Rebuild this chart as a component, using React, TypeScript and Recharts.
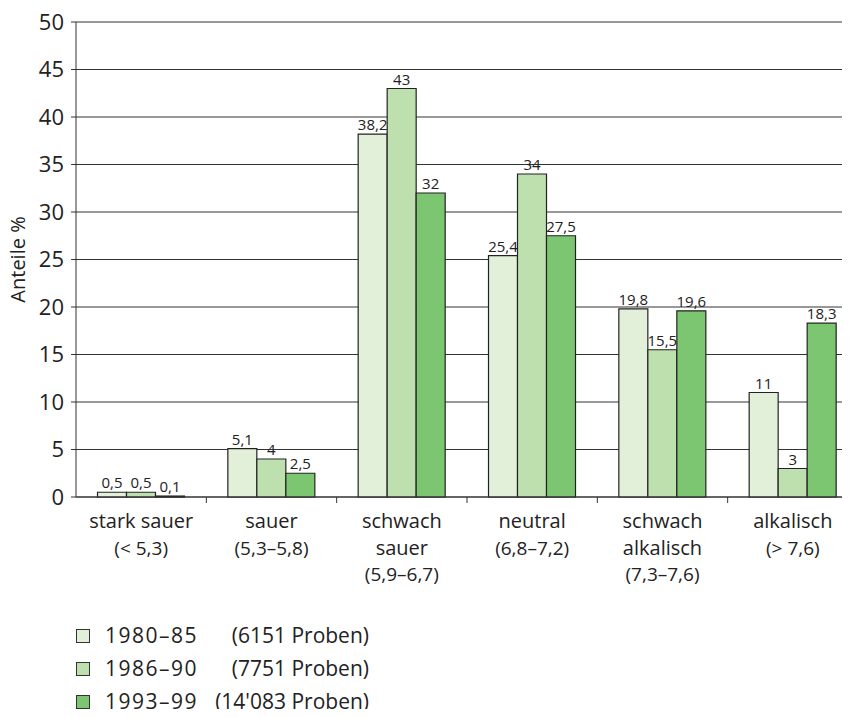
import React from "react";
import {
  BarChart,
  Bar,
  XAxis,
  YAxis,
  CartesianGrid,
  LabelList,
} from "recharts";

// Kategorien (pH-Bereiche)
const categoryNames: string[][] = [
  ["stark sauer"],
  ["sauer"],
  ["schwach", "sauer"],
  ["neutral"],
  ["schwach", "alkalisch"],
  ["alkalisch"],
];
const categoryRanges = [
  "(< 5,3)",
  "(5,3–5,8)",
  "(5,9–6,7)",
  "(6,8–7,2)",
  "(7,3–7,6)",
  "(> 7,6)",
];

// Anteile in %
const s1980 = [0.5, 5.1, 38.2, 25.4, 19.8, 11];
const s1986 = [0.5, 4, 43, 34, 15.5, 3];
const s1993 = [0.1, 2.5, 32, 27.5, 19.6, 18.3];

const seriesKeys = ["p1980", "p1986", "p1993"];
const seriesPeriods = ["1980–85", "1986–90", "1993–99"];
const seriesSamples = ["(6151 Proben)", "(7751 Proben)", "(14'083 Proben)"];
const seriesColors = ["#e2efd9", "#bedfae", "#7cc672"];

const yTicks = [0, 5, 10, 15, 20, 25, 30, 35, 40, 45, 50];

const data = categoryNames.map((n, i) => ({
  key: String(i),
  p1980: s1980[i],
  p1986: s1986[i],
  p1993: s1993[i],
}));

const FONT = "'Open Sans', 'Noto Sans', sans-serif";
const INK = "#222";

const CHART_W = 858;
const Y_AXIS_W = 76;
// halbe Kategorienbreite (Plotbreite / Anzahl Kategorien / 2)
const HALF_BAND = (CHART_W - Y_AXIS_W) / categoryNames.length / 2;

function fmt(v: any) {
  return String(v).replace(".", ",");
}

// Beschriftung + Teilstrich an der linken Kategoriengrenze
function CategoryTick(props: any) {
  const { x, y, payload } = props;
  const i = Number(payload?.value);
  const off = Number(payload?.offset);
  const half = Number.isFinite(off) && off > 1 ? off : HALF_BAND;
  const lines = [...(categoryNames[i] || []), categoryRanges[i]];
  return (
    <g>
      {i > 0 && (
        <path d={`M${x - half},${y}v6`} stroke="#333" strokeWidth={1} fill="none" />
      )}
      {lines.map((t, k) => (
        <text
          key={k}
          x={x}
          y={y}
          dy={k * 26.5 + 31}
          textAnchor="middle"
          fontSize={k === lines.length - 1 ? 19 : 20}
          fill={INK}
          fontFamily={FONT}
        >
          {t}
        </text>
      ))}
    </g>
  );
}

export default function App() {
  return (
    <div
      style={{
        position: "relative",
        width: 850,
        height: 717,
        margin: -8,
        overflow: "hidden",
        background: "#fff",
        fontFamily: FONT,
      }}
    >
      <BarChart
        width={CHART_W}
        height={717}
        data={data}
        margin={{ top: 22, right: 0, bottom: 120, left: 0 }}
        barCategoryGap="16.5%"
        barGap={0}
      >
        <CartesianGrid vertical={false} stroke="#333" />
        <XAxis
          dataKey="key"
          height={100}
          axisLine={{ stroke: "#333" }}
          tickLine={false}
          tickSize={0}
          tickMargin={0}
          tick={<CategoryTick />}
          interval={0}
        />
        <YAxis
          domain={[0, 50]}
          ticks={yTicks}
          width={Y_AXIS_W}
          axisLine={{ stroke: "#333" }}
          tickLine={{ stroke: "#333" }}
          tickSize={5}
          tickMargin={7}
          tick={{ fontSize: 22, fill: INK, fontFamily: FONT }}
          label={{
            value: "Anteile %",
            angle: -90,
            position: "insideLeft",
            offset: 18,
            style: { textAnchor: "middle", fontSize: 20, fill: INK, fontFamily: FONT },
          }}
        />
        {seriesKeys.map((k, i) => (
          <Bar
            key={k}
            dataKey={k}
            fill={seriesColors[i]}
            stroke="#222"
            strokeWidth={1.2}
            isAnimationActive={false}
          >
            <LabelList
              dataKey={k}
              position="top"
              offset={4}
              formatter={fmt}
              fill={INK}
              fontSize={15}
              fontFamily={FONT}
            />
          </Bar>
        ))}
      </BarChart>

      <div style={{ position: "absolute", left: 76, top: 619 }}>
        {seriesKeys.map((k, i) => (
          <div
            key={k}
            style={{ display: "flex", alignItems: "center", height: 33 }}
          >
            <span
              style={{
                display: "inline-block",
                width: 12,
                height: 12,
                background: seriesColors[i],
                border: "1px solid #333",
                marginRight: 15,
              }}
            />
            <span
              style={{
                display: "flex",
                justifyContent: "space-between",
                width: 264,
                fontSize: 21,
                lineHeight: "33px",
                color: INK,
              }}
            >
              <span style={{ letterSpacing: 1.5 }}>{seriesPeriods[i]}</span>
              <span>{seriesSamples[i]}</span>
            </span>
          </div>
        ))}
      </div>
    </div>
  );
}
